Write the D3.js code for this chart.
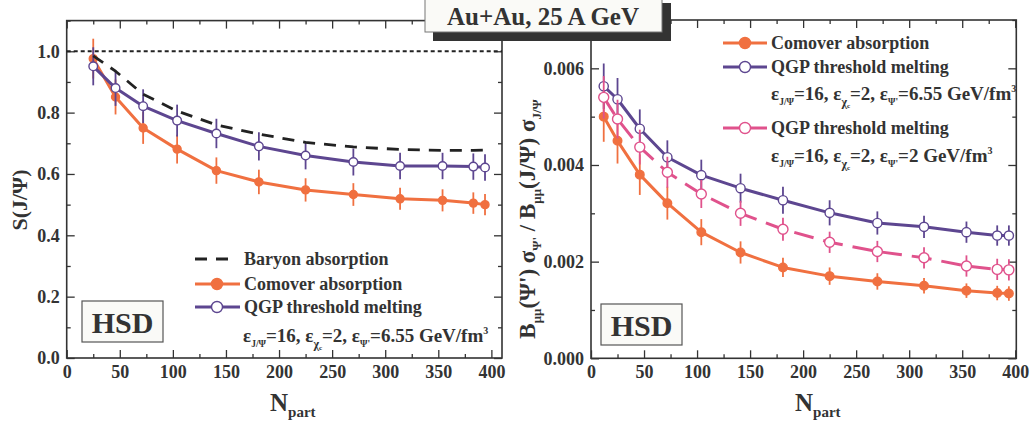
<!DOCTYPE html>
<html><head><meta charset="utf-8">
<script src="https://cdn.jsdelivr.net/npm/d3@7"></script>
<style>
body{margin:0;background:#fff}
svg{display:block}
text{font-family:"Liberation Serif","Times New Roman",serif;font-weight:bold;fill:#333}
</style>
</head><body><svg id="c" width="1033" height="425"></svg>
<script>
// ---------- data ----------
const npartL = [25,46,72,104,141,181,225,270,314,354,383,394];
const baryonL = [0.985,0.935,0.86,0.805,0.76,0.73,0.703,0.688,0.68,0.677,0.677,0.678];
const comoverL = [0.976,0.851,0.750,0.681,0.611,0.574,0.548,0.533,0.519,0.514,0.505,0.500];
const comoverLerr = [0.065,0.057,0.052,0.047,0.043,0.040,0.038,0.037,0.036,0.036,0.035,0.035];
const qgpL = [0.951,0.880,0.821,0.774,0.732,0.690,0.660,0.639,0.626,0.626,0.624,0.621];
const qgpLerr = [0.062,0.058,0.055,0.052,0.048,0.046,0.045,0.044,0.043,0.043,0.043,0.043];

const npartR = [12,25,46,72,104,141,181,225,270,314,354,383,394];
const comoverR = [0.00500,0.00450,0.00380,0.00321,0.00261,0.00219,0.00188,0.00170,0.00159,0.00150,0.00140,0.00135,0.00134];
const comoverRerr = [0.00052,0.00047,0.00042,0.00034,0.00027,0.00023,0.00020,0.00018,0.00017,0.00016,0.00015,0.00015,0.00015];
const qgpR = [0.00563,0.00536,0.00475,0.00416,0.00379,0.00352,0.00327,0.00301,0.00280,0.00272,0.00261,0.00254,0.00254];
const qgpRerr = [0.00047,0.00044,0.00040,0.00035,0.00032,0.00030,0.00028,0.00026,0.00024,0.00023,0.00022,0.00021,0.00021];
const qgp2R = [0.00540,0.00495,0.00437,0.00385,0.00340,0.00300,0.00267,0.00240,0.00221,0.00208,0.00191,0.00184,0.00183];
const qgp2Rerr = [0.00044,0.00040,0.00036,0.00032,0.00029,0.00026,0.00024,0.00022,0.00022,0.00022,0.00022,0.00022,0.00022];

const xTicks = [0,50,100,150,200,250,300,350,400];
const xMinor = [25,75,125,175,225,275,325,375];
const yTicksL = [0,0.2,0.4,0.6,0.8,1.0];
const yMinorL = [0.1,0.3,0.5,0.7,0.9,1.1];
const yTicksR = [0,0.002,0.004,0.006];
const yMinorR = [0.001,0.003,0.005,0.007];

const title = "Au+Au, 25 A GeV";
const legL = ["Baryon absorption","Comover absorption","QGP threshold melting"];
const legR = ["Comover absorption","QGP threshold melting","QGP threshold melting"];

const cOrange = "#f07040", cPurple = "#5d4690", cPink = "#e0528c", cBlack = "#222", cText = "#333";

// ---------- drawing ----------
const svg = d3.select("#c");

function panel(x, y, yT, yM, fmt) {
  const [x0,x1] = x.range(), [y0,y1] = y.range();
  const g = svg.append("g");
  const mk = (axis, tr, vals, size, labels) => {
    const a = g.append("g").attr("transform", tr)
      .call(axis.tickValues(vals).tickSize(size).tickPadding(labels ? 7 : 0)
        .tickFormat(labels ? labels : ""));
    a.select(".domain").remove();
    a.selectAll("line").attr("stroke", cText).attr("stroke-width", 1.3);
    a.selectAll("text").attr("font-size", 18).attr("fill", cText)
      .attr("font-family", '"Liberation Serif",serif').attr("font-weight", "bold");
  };
  mk(d3.axisBottom(x), `translate(0,${y0})`, xTicks, -8, d3.format("d"));
  mk(d3.axisBottom(x), `translate(0,${y0})`, xMinor, -4, null);
  mk(d3.axisTop(x), `translate(0,${y1})`, xTicks, -8, null);
  mk(d3.axisTop(x), `translate(0,${y1})`, xMinor, -4, null);
  mk(d3.axisLeft(y), `translate(${x0},0)`, yT, -8, fmt);
  mk(d3.axisLeft(y), `translate(${x0},0)`, yM, -4, null);
  mk(d3.axisRight(y), `translate(${x1},0)`, yT, -8, null);
  mk(d3.axisRight(y), `translate(${x1},0)`, yM, -4, null);
  g.append("rect").attr("x", x0).attr("y", y1).attr("width", x1 - x0).attr("height", y0 - y1)
    .attr("fill", "none").attr("stroke", cText).attr("stroke-width", 1.6);
  return g;
}

function series(g, x, y, xs, ys, errs, color, opt) {
  const pts = xs.map((d, i) => [d, ys[i], errs ? errs[i] : 0]);
  if (errs) {
    g.append("g").selectAll("line").data(pts).join("line")
      .attr("x1", d => x(d[0])).attr("x2", d => x(d[0]))
      .attr("y1", d => y(d[1] - d[2])).attr("y2", d => y(d[1] + d[2]))
      .attr("stroke", color).attr("stroke-width", 1.8);
  }
  g.append("path").datum(pts)
    .attr("d", d3.line().x(d => x(d[0])).y(d => y(d[1])))
    .attr("fill", "none").attr("stroke", color).attr("stroke-width", opt.w || 3)
    .attr("stroke-dasharray", opt.dash || null).attr("stroke-linejoin", "round");
  if (opt.marker) {
    g.append("g").selectAll("circle").data(pts).join("circle")
      .attr("cx", d => x(d[0])).attr("cy", d => y(d[1])).attr("r", opt.r || 4)
      .attr("fill", opt.marker === "open" ? "#fff" : color)
      .attr("stroke", color).attr("stroke-width", 1.4);
  }
}

function legendRow(g, x0, x1, xm, yy, color, marker, dash, label, tx) {
  g.append("line").attr("x1", x0).attr("x2", x1).attr("y1", yy).attr("y2", yy)
    .attr("stroke", color).attr("stroke-width", 3).attr("stroke-dasharray", dash || null);
  if (marker) g.append("circle").attr("cx", xm).attr("cy", yy).attr("r", 5.5)
    .attr("fill", marker === "open" ? "#fff" : color).attr("stroke", color).attr("stroke-width", 1.4);
  g.append("text").attr("x", tx).attr("y", yy).attr("dy", "0.35em")
    .attr("font-size", 18).text(label);
}

function epsText(g, x, yb, last) {
  const t = g.append("text").attr("x", x).attr("y", yb).attr("font-size", 19);
  const parts = [
    ["ε", 0, 19], ["J/Ψ", 5, 9.5], ["=16, ε", -5, 19], ["χ", 6, 12], ["c", 2, 7],
    ["=2, ε", -8, 19], ["Ψ'", 5, 9.5], ["=" + last + " GeV/fm", -5, 19], ["3", -8, 10]
  ];
  parts.forEach(p => t.append("tspan").attr("dy", p[1]).attr("font-size", p[2]).text(p[0]));
}

function hsd(g, x, y) {
  g.append("rect").attr("x", x).attr("y", y).attr("width", 81).attr("height", 41)
    .attr("fill", "#fafaf7").attr("stroke", "#555").attr("stroke-width", 1.2);
  g.append("text").attr("x", x + 40.5).attr("y", y + 21).attr("dy", "0.35em")
    .attr("text-anchor", "middle").attr("font-size", 30).text("HSD");
}

// ---- left panel ----
const xL = d3.scaleLinear().domain([0, 410]).range([66.7, 502]);
const yL = d3.scaleLinear().domain([0, 1.1]).range([358, 20.6]);
const gL = panel(xL, yL, yTicksL, yMinorL, d3.format(".1f"));
gL.append("line").attr("x1", xL(0)).attr("x2", xL(410)).attr("y1", yL(1)).attr("y2", yL(1))
  .attr("stroke", cBlack).attr("stroke-width", 1.8).attr("stroke-dasharray", "4,3");
series(gL, xL, yL, npartL, comoverL, comoverLerr, cOrange, {marker: "filled", r: 4});
series(gL, xL, yL, npartL, qgpL, qgpLerr, cPurple, {marker: "open", r: 4.3});
series(gL, xL, yL, npartL, baryonL, null, cBlack, {dash: "12,9", w: 2.8});
legendRow(gL, 195, 230, 0, 259, cBlack, null, "12,9", legL[0], 244);
legendRow(gL, 195, 240, 217, 284, cOrange, "filled", null, legL[1], 244);
legendRow(gL, 195, 240, 217, 307, cPurple, "open", null, legL[2], 244);
epsText(gL, 243, 342, "6.55");
hsd(gL, 82, 301);
gL.append("text").attr("transform", "translate(27,200) rotate(-90)").attr("text-anchor", "middle")
  .attr("font-size", 22).text("S(J/Ψ)");
const nL = gL.append("text").attr("x", 270).attr("y", 411).attr("font-size", 25);
nL.append("tspan").text("N");
nL.append("tspan").attr("dy", 6).attr("font-size", 15).text("part");

// ---- right panel ----
const xR = d3.scaleLinear().domain([0, 401]).range([591, 1016.3]);
const yR = d3.scaleLinear().domain([0, 0.007]).range([358.3, 20]);
const gR = panel(xR, yR, yTicksR, yMinorR, d3.format(".3f"));
series(gR, xR, yR, npartR, comoverR, comoverRerr, cOrange, {marker: "filled", r: 4.3});
series(gR, xR, yR, npartR, qgpR, qgpRerr, cPurple, {marker: "open", r: 4.6});
series(gR, xR, yR, npartR, qgp2R, qgp2Rerr, cPink, {marker: "open", r: 5, dash: "20,10"});
legendRow(gR, 723, 767, 745, 43, cOrange, "filled", null, legR[0], 771);
legendRow(gR, 723, 767, 745, 67, cPurple, "open", null, legR[1], 771);
epsText(gR, 771, 100, "6.55");
legendRow(gR, 723, 767, 745, 128, cPink, "open", null, legR[2], 771);
epsText(gR, 771, 162, "2");
hsd(gR, 601, 304);
const yl = gR.append("text").attr("transform", "translate(535,219) rotate(-90)")
  .attr("text-anchor", "middle").attr("font-size", 23);
[["B",0,23],["μμ",6,13],["(Ψ') σ",-6,23],["Ψ'",6,13],[" / B",-6,23],["μμ",6,13],["(J/Ψ) σ",-6,23],["J/Ψ",6,13]]
  .forEach(p => yl.append("tspan").attr("dy", p[1]).attr("font-size", p[2]).text(p[0]));
const nR = gR.append("text").attr("x", 795).attr("y", 411).attr("font-size", 25);
nR.append("tspan").text("N");
nR.append("tspan").attr("dy", 6).attr("font-size", 15).text("part");

// ---- title box ----
svg.append("rect").attr("x", 433).attr("y", 3).attr("width", 238).attr("height", 38).attr("fill", "#333");
svg.append("rect").attr("x", 425).attr("y", -2).attr("width", 237).attr("height", 34)
  .attr("fill", "#fafaf7").attr("stroke", "#777").attr("stroke-width", 1);
svg.append("text").attr("x", 543).attr("y", 16).attr("dy", "0.35em").attr("text-anchor", "middle")
  .attr("font-size", 25).text(title);
</script></body></html>
